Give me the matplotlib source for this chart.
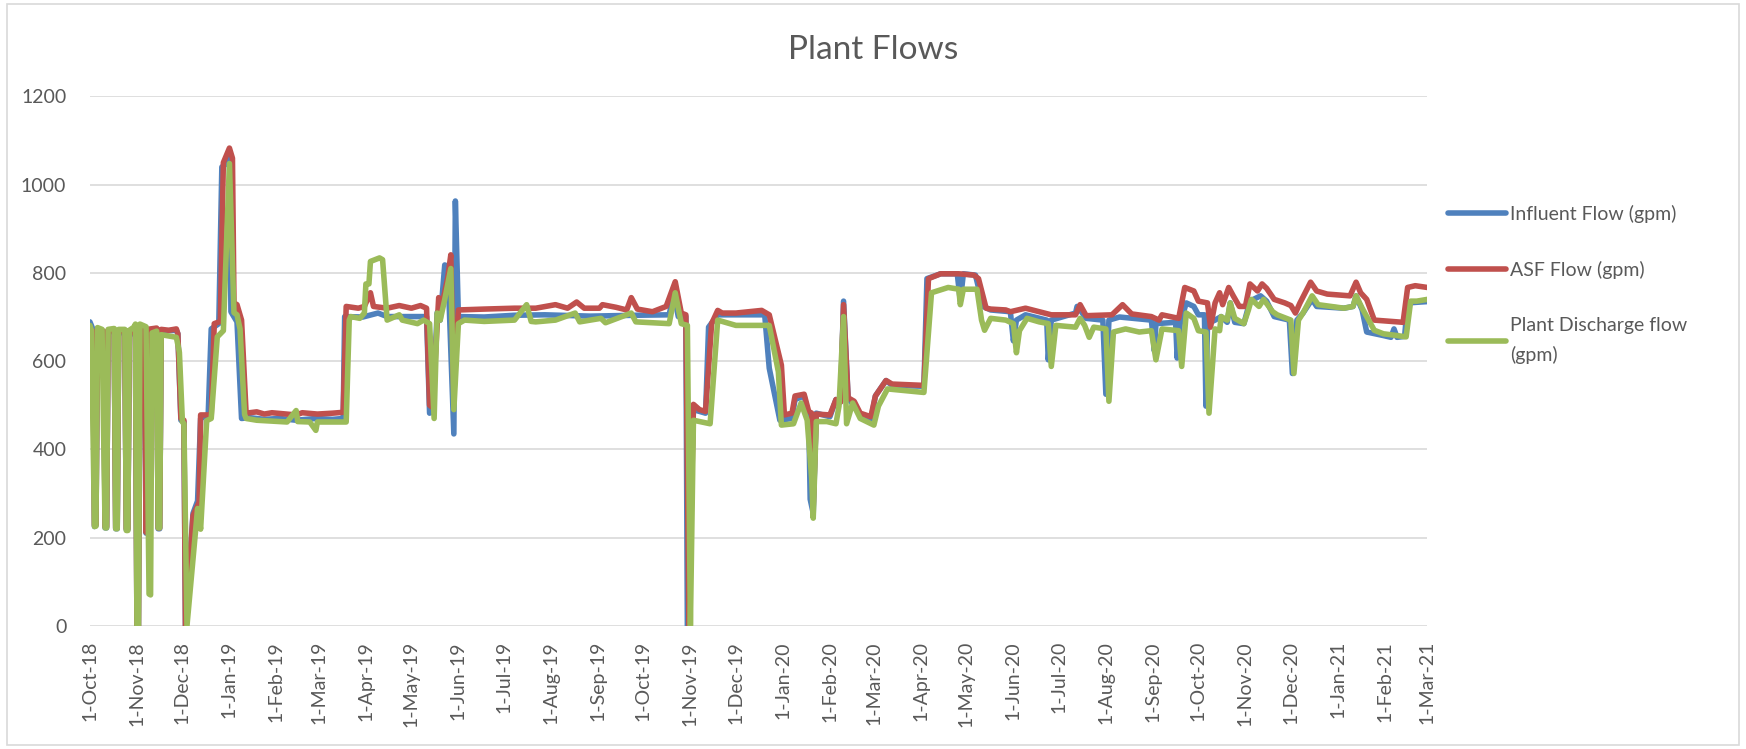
import pandas as pd
import matplotlib
matplotlib.use("Agg")
from matplotlib import pyplot as plt
from matplotlib.patches import Rectangle

plt.rcParams['font.family'] = ['Lato', 'DejaVu Sans']

# days counted from the first date on the axis
start = pd.Timestamp('2018-10-01')
end = pd.Timestamp('2021-03-01')

influent_days = [0, 2, 3, 4, 5, 9, 10, 11, 12, 16, 17, 18, 19, 23, 24, 25, 26, 30, 31, 32, 33, 36, 37, 38, 44, 45, 46, 47,
                 57, 58, 60, 62, 63, 68, 71, 73, 78, 80, 85, 87, 90, 92, 93, 97, 100, 105, 115, 125, 136, 149, 160, 167,
                 168, 180, 190, 196, 222, 224, 226, 229, 231, 234, 236, 240, 241, 243, 260, 280, 300, 330, 360, 382, 385,
                 388, 393, 394, 398, 406, 408, 414, 443, 445, 448, 455, 463, 465, 471, 474, 475, 477, 479, 488, 492, 495,
                 497, 500, 508, 515, 518, 525, 529, 550, 552, 561, 572, 574, 576, 584, 589, 594, 607, 609, 611, 617, 631,
                 632, 634, 650, 651, 653, 657, 668, 670, 672, 679, 700, 702, 703, 716, 717, 719, 723, 728, 731, 735, 736,
                 737, 742, 746, 750, 752, 755, 761, 765, 772, 776, 781, 791, 793, 796, 800, 806, 809, 827, 833, 835, 839,
                 842, 853, 858, 860, 862, 867, 869, 882]
influent_vals = [689, 672, 225, 228, 670, 666, 222, 222, 666, 668, 220, 220, 665, 664, 218, 218, 662, 662, 0, 0, 672, 672,
                 210, 668, 672, 220, 220, 668, 670, 662, 466, 462, 0, 255, 283, 470, 478, 673, 685, 1040, 1048, 1060, 712,
                 689, 470, 472, 468, 470, 466, 470, 468, 470, 701, 700, 709, 701, 701, 482, 486, 710, 693, 818, 815, 435,
                 963, 701, 700, 704, 705, 702, 704, 705, 755, 701, 701, 0, 490, 482, 677, 705, 705, 705, 584, 466, 470,
                 513, 521, 478, 287, 255, 482, 474, 513, 508, 736, 517, 478, 466, 521, 556, 545, 543, 787, 798, 798, 736,
                 798, 795, 724, 716, 712, 646, 693, 705, 693, 603, 693, 709, 724, 716, 697, 693, 525, 693, 700, 693, 623,
                 685, 688, 607, 685, 732, 724, 705, 705, 498, 685, 693, 701, 688, 732, 688, 685, 736, 748, 736, 701, 693,
                 572, 693, 709, 740, 724, 720, 724, 748, 716, 666, 658, 654, 673, 654, 656, 732, 735]

asf_days = [0, 2, 3, 4, 5, 9, 10, 11, 12, 16, 17, 18, 19, 23, 24, 25, 26, 30, 31, 32, 33, 36, 37, 38, 44, 45, 46, 47, 52,
            57, 58, 60, 62, 63, 68, 72, 73, 80, 82, 86, 88, 92, 94, 95, 97, 100, 103, 110, 115, 120, 130, 136, 140, 150,
            160, 167, 169, 177, 181, 185, 187, 196, 204, 212, 218, 222, 224, 226, 230, 232, 236, 238, 240, 241, 243, 260,
            280, 294, 307, 315, 321, 326, 336, 338, 347, 354, 357, 361, 371, 380, 386, 390, 393, 395, 398, 402, 406, 410,
            414, 417, 426, 443, 448, 456, 458, 463, 465, 471, 474, 476, 477, 479, 488, 492, 495, 497, 500, 504, 508, 515,
            518, 525, 529, 550, 553, 561, 573, 583, 586, 591, 594, 604, 607, 617, 634, 650, 653, 657, 674, 681, 687, 700,
            705, 707, 718, 722, 728, 731, 737, 739, 742, 745, 747, 751, 754, 758, 762, 765, 770, 773, 776, 781, 788, 792,
            795, 798, 805, 809, 816, 831, 835, 838, 842, 847, 866, 869, 874, 882]
asf_vals = [646, 668, 228, 230, 668, 668, 225, 225, 668, 670, 222, 222, 668, 668, 220, 220, 665, 665, 0, 0, 675, 675, 212,
            672, 675, 222, 222, 672, 670, 673, 662, 470, 466, 0, 250, 280, 478, 478, 685, 690, 1050, 1083, 1060, 732, 728,
            693, 482, 485, 480, 483, 480, 478, 483, 480, 482, 484, 724, 720, 724, 755, 724, 720, 726, 720, 726, 720, 500,
            495, 744, 724, 790, 841, 520, 600, 716, 718, 720, 720, 728, 720, 734, 720, 720, 728, 722, 716, 744, 718, 712,
            724, 780, 709, 705, 0, 502, 490, 486, 685, 715, 709, 709, 715, 705, 591, 478, 482, 521, 525, 486, 482, 270,
            480, 478, 513, 507, 728, 517, 509, 482, 474, 521, 556, 548, 545, 787, 798, 798, 795, 787, 720, 718, 716, 712,
            720, 705, 705, 728, 703, 705, 728, 707, 701, 693, 705, 697, 767, 759, 736, 732, 677, 732, 755, 728, 767, 748,
            724, 724, 775, 759, 775, 765, 740, 732, 726, 709, 732, 779, 759, 752, 748, 779, 755, 740, 693, 688, 767, 771,
            767]

discharge_days = [0, 1, 3, 4, 5, 8, 10, 11, 12, 16, 17, 18, 19, 23, 24, 25, 26, 29, 30, 31, 32, 33, 37, 39, 40, 41, 44,
                  45, 46, 47, 57, 59, 61, 62, 64, 71, 73, 77, 80, 84, 88, 92, 95, 97, 99, 102, 103, 110, 120, 130, 136,
                  137, 145, 149, 150, 160, 169, 171, 172, 178, 181, 182, 184, 185, 191, 193, 196, 204, 206, 216, 220,
                  224, 227, 229, 231, 234, 238, 240, 243, 247, 260, 280, 288, 291, 294, 307, 320, 323, 337, 340, 357,
                  360, 382, 386, 390, 394, 396, 398, 409, 414, 426, 443, 448, 454, 456, 464, 469, 473, 476, 477, 479,
                  486, 492, 494, 497, 499, 503, 508, 517, 520, 526, 550, 555, 566, 573, 574, 576, 585, 588, 590, 594,
                  604, 609, 611, 613, 618, 626, 632, 634, 637, 650, 653, 656, 659, 662, 670, 672, 675, 683, 692, 700,
                  703, 707, 718, 720, 723, 728, 731, 736, 738, 742, 745, 746, 750, 752, 755, 761, 764, 766, 771, 774,
                  780, 783, 792, 794, 797, 800, 806, 810, 827, 833, 835, 839, 842, 847, 853, 862, 868, 871, 875, 882]
discharge_vals = [681, 670, 225, 226, 676, 672, 222, 222, 672, 674, 220, 220, 672, 672, 216, 216, 670, 677, 684, 0, 0,
                  684, 678, 72, 70, 664, 668, 222, 222, 660, 654, 620, 462, 458, 0, 266, 219, 465, 470, 655, 669, 1048,
                  710, 705, 673, 479, 470, 466, 464, 462, 488, 463, 462, 443, 462, 462, 462, 693, 701, 697, 709, 775,
                  775, 826, 834, 830, 693, 705, 693, 685, 693, 685, 470, 709, 693, 740, 810, 490, 685, 693, 690, 693,
                  728, 690, 689, 693, 709, 689, 697, 687, 709, 689, 685, 755, 685, 681, 0, 466, 458, 693, 681, 681, 681,
                  576, 455, 458, 505, 466, 334, 244, 463, 463, 458, 498, 701, 458, 505, 470, 455, 498, 537, 529, 755,
                  767, 763, 728, 763, 763, 693, 670, 697, 693, 685, 619, 669, 697, 689, 685, 588, 681, 677, 697, 681,
                  654, 677, 673, 509, 666, 673, 666, 669, 603, 673, 669, 588, 709, 697, 669, 666, 482, 673, 669, 701,
                  693, 732, 697, 685, 716, 740, 724, 740, 712, 705, 693, 572, 693, 709, 748, 728, 720, 724, 748, 720,
                  701, 670, 662, 658, 655, 736, 736, 740]

labels = ['Influent Flow (gpm)', 'ASF Flow (gpm)', 'Plant Discharge flow\n(gpm)']
colors = ['#4F81BD', '#C0504D', '#9BBB59']

fig = plt.figure(figsize=(17.46, 7.49), dpi=100)
ax = fig.add_axes([0.0515, 0.1645, 0.766, 0.7067])

series = [(influent_days, influent_vals), (asf_days, asf_vals), (discharge_days, discharge_vals)]
for (days, vals), lab, col in zip(series, labels, colors):
    dates = start + pd.to_timedelta(days, unit='D')
    ax.plot(dates, vals, color=col, lw=4.0, label=lab, solid_joinstyle='round', solid_capstyle='round')

ax.set_ylim(0, 1200)
ax.set_yticks(range(0, 1201, 200))
ax.set_xlim(start, end)
months = pd.date_range(start, end, freq='MS')
ax.set_xticks(months)
ax.set_xticklabels([f"{d.day}-{d:%b-%y}" for d in months], rotation=90)

ax.grid(axis='y', color='#D9D9D9', lw=1.2)
ax.set_axisbelow(True)
for s in ax.spines.values():
    s.set_visible(False)
ax.tick_params(axis='both', length=0, labelsize=14, colors='#595959')
ax.tick_params(axis='y', pad=17)
ax.tick_params(axis='x', pad=11)

fig.text(0.5, 0.933, 'Plant Flows', ha='center', va='center', fontsize=24, color='#595959')

leg = fig.legend(loc='upper left', bbox_to_anchor=(0.8235, 0.739), frameon=False, fontsize=14,
                 handlelength=3.0, handletextpad=0.2, labelspacing=1.95, borderpad=0)
for t in leg.get_texts():
    t.set_color('#595959')
    t.set_linespacing(1.75)

fig.patches.append(Rectangle((0.004, 0.006), 0.992, 0.988, transform=fig.transFigure,
                             fill=False, edgecolor='#D9D9D9', lw=1.2))

fig.savefig('out.png', dpi=100)
